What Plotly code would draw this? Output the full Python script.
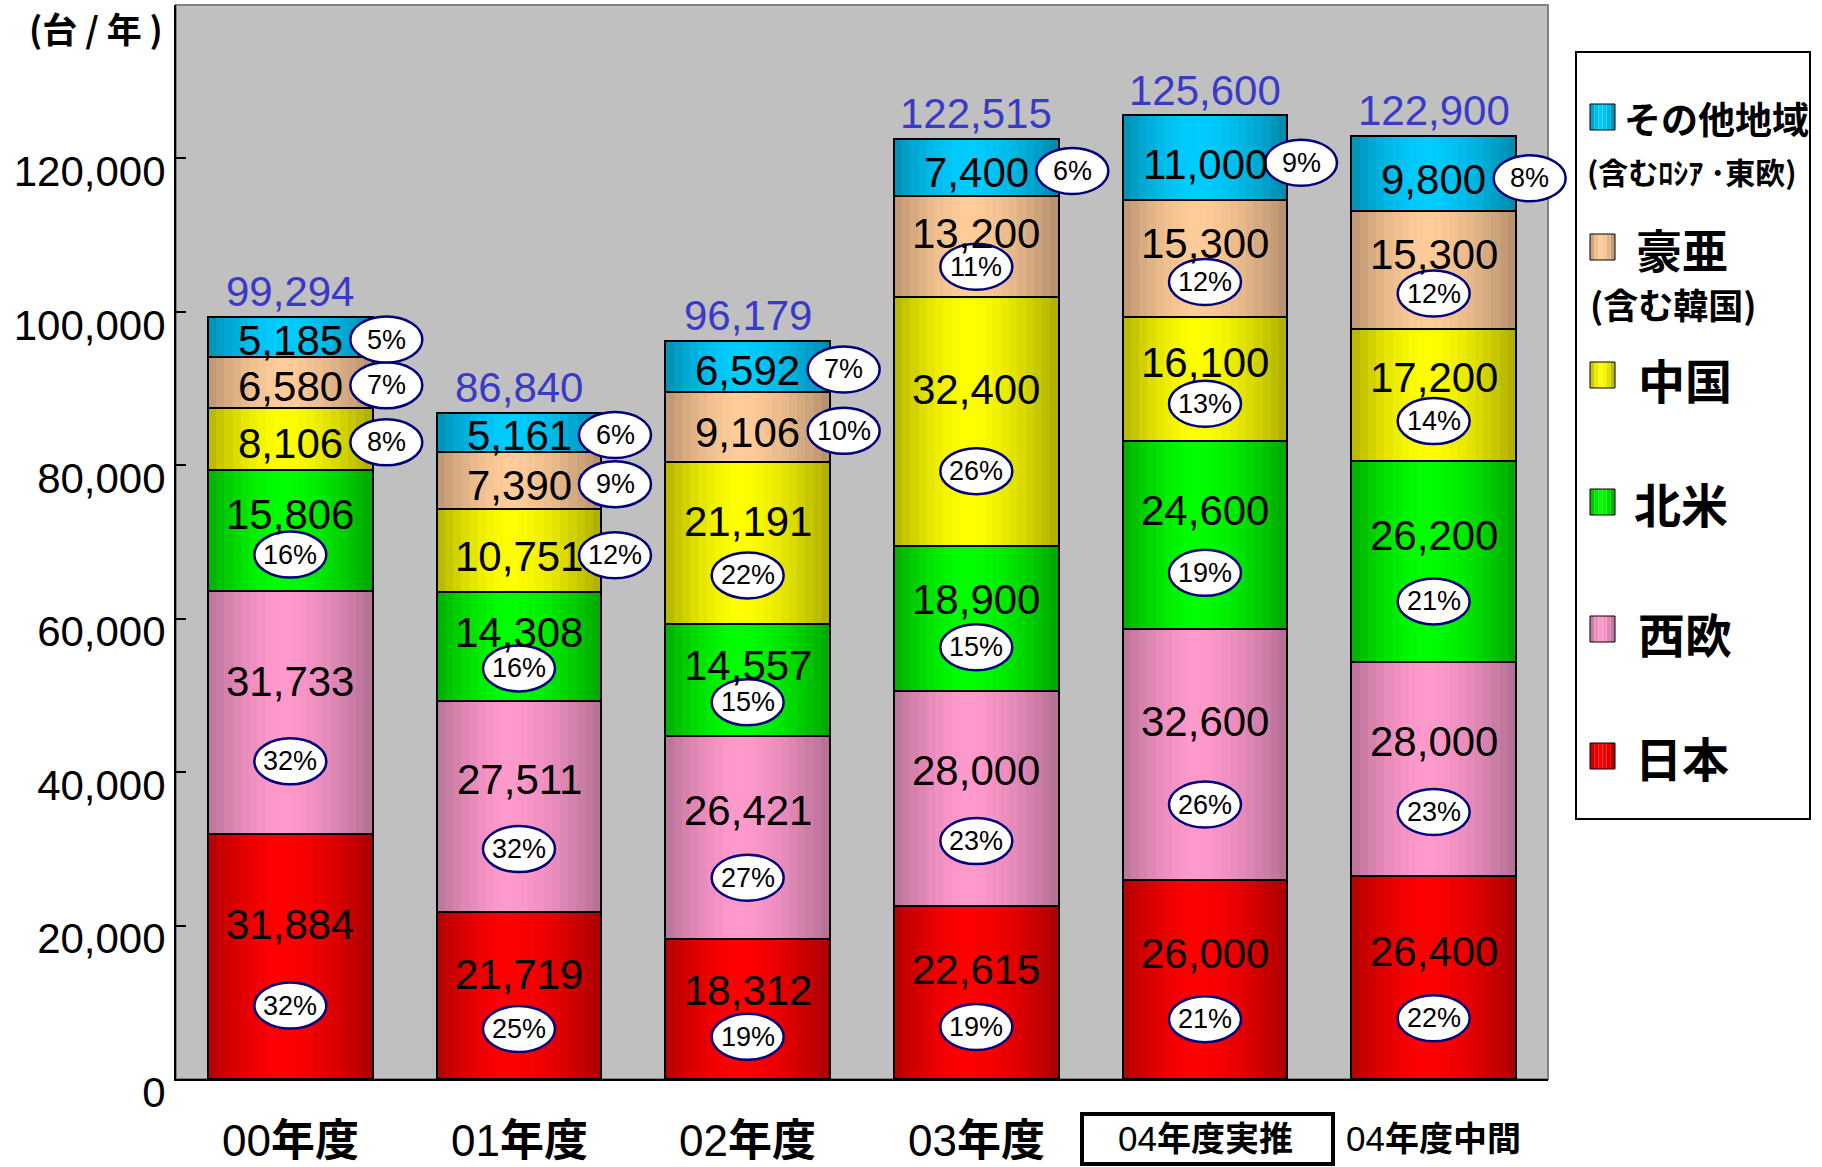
import plotly.graph_objects as go

# ---------------- data ----------------
categories = ["00年度", "01年度", "02年度", "03年度", "04年度実推", "04年度中間"]
series_names = ["日本", "西欧", "北米", "中国", "豪亜", "その他地域"]

japan = [31884, 21719, 18312, 22615, 26000, 26400]
west_europe = [31733, 27511, 26421, 28000, 32600, 28000]
north_america = [15806, 14308, 14557, 18900, 24600, 26200]
china = [8106, 10751, 21191, 32400, 16100, 17200]
asia_pacific = [6580, 7390, 9106, 13200, 15300, 15300]
other_regions = [5185, 5161, 6592, 7400, 11000, 9800]
totals = [99294, 86840, 96179, 122515, 125600, 122900]

pct_japan = [32, 25, 19, 19, 21, 22]
pct_west_europe = [32, 32, 27, 23, 26, 23]
pct_north_america = [16, 16, 15, 15, 19, 21]
pct_china = [8, 12, 22, 26, 13, 14]
pct_asia_pacific = [7, 9, 10, 11, 12, 12]
pct_other_regions = [5, 6, 7, 6, 9, 8]

y_tick_values = [0, 20000, 40000, 60000, 80000, 100000, 120000, 140000]
y_tick_labels = ["0", "20,000", "40,000", "60,000", "80,000", "100,000", "120,000", ""]
Y_MAX = 140000

# ---------------- styling ----------------
W, H = 1822, 1167
L_M, R_M, T_M, B_M = 176, 274, 5, 88
PW, PH = W - L_M - R_M, H - T_M - B_M

def px(x):
    return (x - L_M) / PW

def py(y):
    return (H - B_M - y) / PH

values = [japan, west_europe, north_america, china, asia_pacific, other_regions]
pcts = [pct_japan, pct_west_europe, pct_north_america, pct_china, pct_asia_pacific, pct_other_regions]
light = ["#FF0000", "#FF99CC", "#00FF00", "#FFFF00", "#FFCC99", "#00CCFF"]
dark = ["#A80000", "#B06E92", "#00A400", "#ABAB00", "#B48E6C", "#0088AA"]

def hex2rgb(h):
    h = h.lstrip("#")
    return [int(h[i:i + 2], 16) for i in (0, 2, 4)]

def mix(lc, dc, m):
    a, b = hex2rgb(lc), hex2rgb(dc)
    return "rgb(%d,%d,%d)" % tuple(round(b[i] + (a[i] - b[i]) * m) for i in range(3))

def profile(t):
    peak = 0.45
    if t < peak:
        return 1 - ((peak - t) / peak) ** 1.6 * 0.9
    return 1 - ((t - peak) / (1 - peak)) ** 1.6

BW = 0.72
NSTRIP = 20
ncat = len(categories)
xs = list(range(ncat))
X_RANGE = [-0.5, ncat - 0.5]

def x_paper(xv):
    return (xv - X_RANGE[0]) / (X_RANGE[1] - X_RANGE[0])

def y_paper(yv):
    return yv / Y_MAX

bases = []
cum = [0] * ncat
for s in range(len(values)):
    bases.append(list(cum))
    cum = [cum[i] + values[s][i] for i in range(ncat)]

fig = go.Figure()

# gradient strips
for k in range(NSTRIP):
    t = (k + 0.5) / NSTRIP
    m = profile(t)
    bx, bb, by, bc = [], [], [], []
    for s in range(len(values)):
        for i in range(ncat):
            bx.append(xs[i])
            bb.append(bases[s][i])
            by.append(values[s][i])
            bc.append(mix(light[s], dark[s], m))
    w = BW / NSTRIP
    wd = w * 1.4 if k < NSTRIP - 1 else w
    fig.add_trace(go.Bar(
        x=bx, y=by, base=bb, width=wd, offset=-BW / 2 + k * w,
        marker=dict(color=bc, line=dict(width=0)),
        showlegend=False, hoverinfo="skip"))

# outlines
ox, ob, oy = [], [], []
for s in range(len(values)):
    for i in range(ncat):
        ox.append(xs[i]); ob.append(bases[s][i]); oy.append(values[s][i])
fig.add_trace(go.Bar(
    x=ox, y=oy, base=ob, width=BW,
    marker=dict(color="rgba(0,0,0,0)", line=dict(color="black", width=2)),
    showlegend=False, hoverinfo="skip"))

annotations = []
shapes = []

VAL_FONT = dict(family="Liberation Sans, Arial, sans-serif", size=42, color="black")
PCT_FONT = dict(family="Liberation Sans, Arial, sans-serif", size=27, color="black")

for s in range(len(values)):
    for i in range(ncat):
        v = values[s][i]
        b = bases[s][i]
        if v >= 12000:
            ly = b + 0.63 * v
            ey = b + 0.30 * v
            dx = 0
        else:
            ly = b + 0.42 * v
            ey = b + 0.44 * v
            dx = 96
        annotations.append(dict(x=xs[i], y=ly, xref="x", yref="y", text=f"{v:,}",
                                showarrow=False, font=VAL_FONT, xanchor="center", yanchor="middle"))
        shapes.append(dict(type="circle", xref="paper", yref="paper", xsizemode="pixel", ysizemode="pixel",
                           xanchor=x_paper(xs[i]), yanchor=y_paper(ey), x0=dx - 36, x1=dx + 36, y0=-23, y1=23,
                           fillcolor="white", line=dict(color="#00007A", width=2.5), layer="above"))
        annotations.append(dict(x=xs[i], y=ey, xref="x", yref="y", xshift=dx, text=f"{pcts[s][i]}%",
                                showarrow=False, font=PCT_FONT, xanchor="center", yanchor="middle"))

for i in range(ncat):
    annotations.append(dict(x=xs[i], y=totals[i] + 3300, xref="x", yref="y", text=f"{totals[i]:,}",
                            showarrow=False, font=dict(family="Liberation Sans, Arial, sans-serif",
                                                       size=42, color="#3A3AC8"),
                            xanchor="center", yanchor="middle"))

# category labels
for i, c in enumerate(categories):
    digits, rest = c[:2], c[2:]
    if len(rest) <= 2:
        dsz, ksz = 44, 44
    else:
        dsz, ksz = 35, 34
    txt = (f"<span style='font-family:Liberation Sans, Arial;font-size:{dsz}px;font-weight:normal'>{digits}</span>"
           f"<span style='font-family:Noto Sans CJK JP;font-size:{ksz}px;font-weight:bold'>{rest}</span>")
    annotations.append(dict(x=xs[i], y=py(1137), xref="x", yref="paper", text=txt, showarrow=False,
                            font=dict(family="Noto Sans CJK JP", size=ksz, color="black"),
                            xanchor="center", yanchor="middle"))

# box around 04年度実推
shapes.append(dict(type="rect", xref="paper", yref="paper", x0=px(1082), x1=px(1333), y0=py(1164), y1=py(1114),
                   line=dict(color="black", width=4), fillcolor="rgba(0,0,0,0)"))

# unit label
annotations.append(dict(x=px(96), y=py(27), xref="paper", yref="paper", text="(台 / 年 )", showarrow=False,
                        font=dict(family="Noto Sans CJK JP", size=35, color="black", weight="bold"),
                        xanchor="center", yanchor="middle"))

# plot frame (gray top/right)
shapes.append(dict(type="rect", xref="paper", yref="paper", x0=0, x1=1, y0=0, y1=1,
                   line=dict(color="#808080", width=2), fillcolor="rgba(0,0,0,0)", layer="below"))

# legend box
shapes.append(dict(type="rect", xref="paper", yref="paper", x0=px(1576), x1=px(1810), y0=py(819), y1=py(52),
                   line=dict(color="black", width=2), fillcolor="white"))

legend_items = [(5, 117), (4, 247), (3, 375), (2, 502), (1, 629), (0, 756)]
for s, cy in legend_items:
    x0, x1 = 1590, 1615
    y0, y1 = cy - 13, cy + 13
    strips = 6
    for k in range(strips):
        t = (k + 0.5) / strips
        shapes.append(dict(type="rect", xref="paper", yref="paper",
                           x0=px(x0 + (x1 - x0) * k / strips), x1=px(x0 + (x1 - x0) * (k + 1) / strips),
                           y0=py(y1), y1=py(y0), line=dict(width=0),
                           fillcolor=mix(light[s], dark[s], profile(t))))
    shapes.append(dict(type="rect", xref="paper", yref="paper", x0=px(x0), x1=px(x1), y0=py(y1), y1=py(y0),
                       line=dict(color="black", width=1), fillcolor="rgba(0,0,0,0)"))

LEG = "Noto Sans CJK JP"
legend_texts = [
    ("その他地域", 1622, 118, 37),
    ("(含むﾛｼｱ ･東欧)", 1585, 171, 30),
    ("豪亜", 1634, 248, 46),
    ("(含む韓国)", 1588, 304, 35),
    ("中国", 1636, 378, 47),
    ("北米", 1632, 502, 47),
    ("西欧", 1636, 633, 47),
    ("日本", 1633, 757, 47),
]
for txt, x, y, sz in legend_texts:
    annotations.append(dict(x=px(x), y=py(y), xref="paper", yref="paper", text=txt, showarrow=False,
                            font=dict(family=LEG, size=sz, color="black", weight="bold"),
                            xanchor="left", yanchor="middle"))

fig.update_layout(
    width=W, height=H,
    margin=dict(l=L_M, r=R_M, t=T_M, b=B_M, pad=0),
    paper_bgcolor="white", plot_bgcolor="#C0C0C0",
    barmode="overlay", bargap=0,
    showlegend=False,
    annotations=annotations, shapes=shapes,
    xaxis=dict(range=X_RANGE, showticklabels=False, ticks="", showgrid=False, zeroline=False,
               showline=True, linecolor="black", linewidth=2),
    yaxis=dict(range=[0, Y_MAX], tickvals=y_tick_values, ticktext=y_tick_labels, showgrid=False,
               zeroline=False, showline=True, linecolor="black", linewidth=2,
               ticks="inside", ticklen=10, tickwidth=2, tickcolor="black",
               ticklabelshift=13, ticklabelstandoff=0,
               tickfont=dict(family="Liberation Sans, Arial, sans-serif", size=42, color="black")),
    font=dict(family="Liberation Sans, Arial, sans-serif"),
)

fig.write_html("out.html", config={"displayModeBar": False},
               post_script="document.body.style.margin='0';document.body.style.overflow='hidden';")
